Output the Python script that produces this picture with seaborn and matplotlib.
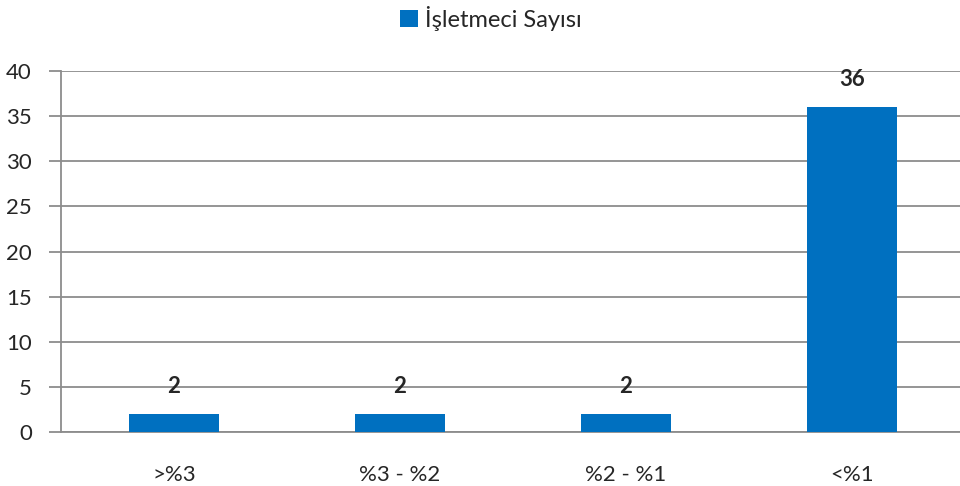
import matplotlib
matplotlib.use("Agg")
import matplotlib.pyplot as plt
import seaborn as sns
import pandas as pd

# Veriler
kategoriler = [">%3", "%3 - %2", "%2 - %1", "<%1"]
isletmeci_sayisi = [2, 2, 2, 36]
seri_adi = "İşletmeci Sayısı"

data = pd.DataFrame({"Kategori": kategoriler, "Sayı": isletmeci_sayisi})

sns.set_style("white")
plt.rcParams['font.family'] = ['Lato', 'DejaVu Sans']

fig = plt.figure(figsize=(9.6, 4.86), dpi=100)
ax = fig.add_axes([61 / 960, 54 / 486, 904 / 960, 361 / 486])

sns.barplot(x="Kategori", y="Sayı", data=data, color="#0070C0", width=0.4,
            saturation=1, linewidth=0, label=seri_adi, ax=ax, zorder=3)

# Eksen ayarları
ax.set_ylim(0, 40)
ax.set_yticks(range(0, 41, 5))
ax.set_xlim(-0.5, len(kategoriler) - 0.5)
ax.set_xlabel("")
ax.set_ylabel("")
ax.yaxis.grid(True, color="#8c8c8c", linewidth=1.3, zorder=0)
ax.set_axisbelow(True)
for s in ["top", "right"]:
    ax.spines[s].set_visible(False)
for s in ["left", "bottom"]:
    ax.spines[s].set_color("#8c8c8c")
    ax.spines[s].set_linewidth(1.3)

# x eksenindeki işaretler kategori sınırlarında
ax.set_xticks([i + 0.5 for i in range(-1, len(kategoriler))], minor=True)
ax.tick_params(axis="x", which="minor", length=6, color="#8c8c8c", width=1.3, direction="out")
ax.tick_params(axis="x", which="major", length=0, pad=24, labelsize=16)
ax.tick_params(axis="y", length=9, color="#8c8c8c", width=1.3, direction="out",
               pad=12, labelsize=16, left=True)

# Değer etiketleri
for i, v in enumerate(isletmeci_sayisi):
    ax.annotate(str(v), (i, v), xytext=(0, 20), textcoords="offset points",
                ha="center", va="center", fontsize=16, fontweight="bold")

ax.legend(loc="center", bbox_to_anchor=(430 / 904, (486 - 18 - 54) / 361),
          frameon=False, fontsize=17, handlelength=0.75, handleheight=0.75,
          handletextpad=0.3, borderaxespad=0)

fig.savefig("out.png", dpi=100)
